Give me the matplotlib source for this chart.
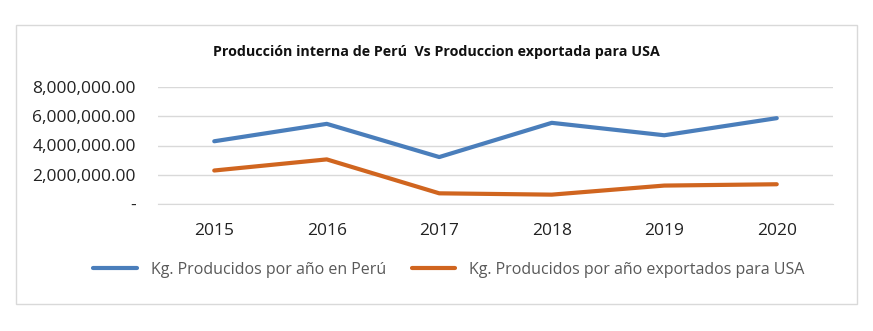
import matplotlib
matplotlib.use("Agg")
import matplotlib.pyplot as plt
from matplotlib.patches import Rectangle
from matplotlib.ticker import FuncFormatter

years = ["2015", "2016", "2017", "2018", "2019", "2020"]
peru = [4290000, 5480000, 3210000, 5550000, 4700000, 5870000]
usa = [2290000, 3050000, 730000, 640000, 1260000, 1350000]
series_names = ["Kg. Producidos por año en Perú", "Kg. Producidos por año exportados para USA"]
title = "Producción interna de Perú  Vs Produccion exportada para USA"

plt.rcParams['font.family'] = ['Open Sans', 'DejaVu Sans']

fig = plt.figure(figsize=(8.73, 3.31), dpi=100)
fig.patch.set_facecolor("white")
fig.patches.append(Rectangle((16/873, 1-304/331), (857-16)/873, (304-25)/331,
                             transform=fig.transFigure, fill=False,
                             edgecolor="#D9D9D9", linewidth=1.0))

ax = fig.add_axes([158/873, 1-204/331, (833-158)/873, (204-87)/331])
x = list(range(len(years)))
blue = "#4A7EBB"
orange = "#D0651F"
ax.plot(x, peru, color=blue, lw=3.0, solid_capstyle="round", label=series_names[0])
ax.plot(x, usa, color=orange, lw=3.0, solid_capstyle="round", label=series_names[1])

ax.set_xlim(-0.5, 5.5)
ax.set_ylim(0, 8000000)
ax.set_yticks([0, 2000000, 4000000, 6000000, 8000000])
ax.yaxis.set_major_formatter(FuncFormatter(lambda v, p: "-" if v == 0 else f"{v:,.2f}"))
ax.set_xticks(x)
ax.set_xticklabels(years)
ax.grid(axis="y", color="#D9D9D9", lw=1.0)
ax.set_axisbelow(True)
for s in ["top", "right", "left"]:
    ax.spines[s].set_visible(False)
ax.spines["bottom"].set_color("#D9D9D9")
ax.tick_params(axis="both", length=0, labelsize=12.5, colors="#222222")
ax.tick_params(axis="x", pad=14)
ax.tick_params(axis="y", pad=16)

fig.text(436/873, 1-52/331, title, ha="center", va="center", fontsize=10.3,
         fontweight="bold", color="#111111")

leg = fig.legend(loc="center", bbox_to_anchor=(449/873, 1-270/331), ncol=2,
                 frameon=False, fontsize=11.5, handlelength=2.7, columnspacing=1.6,
                 handletextpad=0.9)
for t in leg.get_texts():
    t.set_color("#595959")

fig.savefig("out.png", dpi=100)
